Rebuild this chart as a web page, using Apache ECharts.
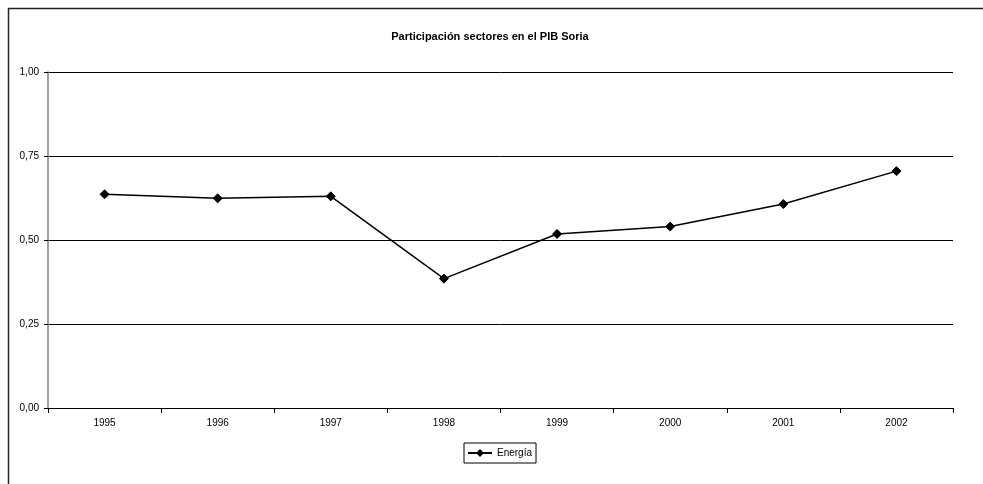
<!DOCTYPE html>
<html>
<head>
<meta charset="utf-8">
<script src="https://cdn.jsdelivr.net/npm/echarts@6/dist/echarts.min.js"></script>
<style>
html,body{margin:0;padding:0;background:#fff;}
#c{width:983px;height:484px;}
</style>
</head>
<body>
<div id="c"></div>
<script>
const titleText = 'Participación sectores en el PIB Soria';
const years = ['1995','1996','1997','1998','1999','2000','2001','2002'];
const seriesName = 'Energía';
const energia = [0.636, 0.624, 0.630, 0.385, 0.518, 0.540, 0.607, 0.705];
const yTicks = [0, 0.25, 0.5, 0.75, 1];

const chart = echarts.init(document.getElementById('c'), null, {renderer:'canvas'});
const font = '"Liberation Sans", Arial, sans-serif';
chart.setOption({
  backgroundColor: '#fff',
  animation: false,
  textStyle: {fontFamily: font},
  graphic: [{
    type: 'rect', silent: true,
    shape: {x: 8.5, y: 8.5, width: 1200, height: 1200},
    style: {fill: 'none', stroke: '#222', lineWidth: 1.5}
  }],
  title: {
    text: titleText, left: 485, top: 26, textAlign: 'center',
    textStyle: {fontFamily: font, fontSize: 11, fontWeight: 'bold', color: '#000'}
  },
  legend: {
    data: [seriesName], left: 464, top: 443,
    borderColor: '#000', borderWidth: 1, padding: [5, 4, 5, 3],
    itemWidth: 24, itemHeight: 10, itemGap: 6,
    textStyle: {fontFamily: font, fontSize: 10, color: '#000'}
  },
  grid: {left: 48, right: 30, top: 72, bottom: 76, containLabel: false, outerBoundsMode: 'none'},
  xAxis: {
    type: 'category', data: years, boundaryGap: true,
    axisLine: {show: true, lineStyle: {color: '#000', width: 1}},
    axisTick: {show: true, interval: 0, length: 5, alignWithLabel: false, lineStyle: {color: '#000'}},
    axisLabel: {fontFamily: font, fontSize: 10, color: '#000', margin: 10},
    splitLine: {show: false}
  },
  yAxis: {
    type: 'value', min: 0, max: 1, interval: 0.25,
    axisLine: {show: true, lineStyle: {color: '#808080', width: 1.5}},
    axisTick: {show: true, length: 4, lineStyle: {color: '#000'}},
    axisLabel: {fontFamily: font, fontSize: 10, color: '#000', margin: 9,
      formatter: v => v.toFixed(2).replace('.', ',')},
    splitLine: {show: true, lineStyle: {color: '#000', width: 1}}
  },
  series: [{
    name: seriesName, type: 'line', data: energia,
    symbol: 'diamond', symbolSize: 9, showSymbol: true,
    lineStyle: {color: '#000', width: 1.5},
    itemStyle: {color: '#000', borderColor: '#000'}
  }]
});
</script>
</body>
</html>
